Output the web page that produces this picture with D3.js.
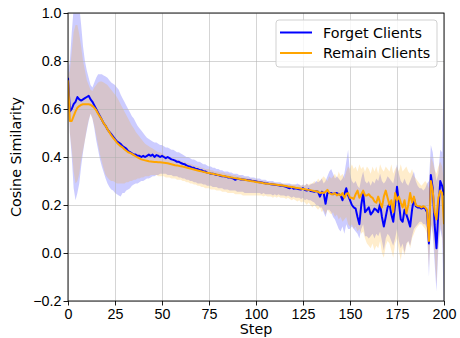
<!DOCTYPE html>
<html>
<head>
<meta charset="utf-8">
<script src="https://cdn.jsdelivr.net/npm/d3@7"></script>
<style>
  body { margin: 0; background: #fff; }
  svg { display: block; font-family: "DejaVu Sans", sans-serif; }
  .tick text { font-size: 14.3px; fill: #000; }
  .label { font-size: 14.3px; fill: #000; }
  .grid line { stroke: #b0b0b0; stroke-opacity: 0.6; stroke-width: 0.9; }
</style>
</head>
<body>
<svg id="chart" width="460" height="338"></svg>
<script>
// steps 0..200
const steps = d3.range(0, 201);

const forgetMean = [
  0.73, 0.59, 0.60, 0.62, 0.63, 0.65, 0.64, 0.635, 0.64, 0.645,
  0.65, 0.655, 0.64, 0.63, 0.615, 0.60, 0.585, 0.57, 0.555, 0.54,
  0.53, 0.515, 0.505, 0.495, 0.485, 0.475, 0.465, 0.46, 0.455, 0.445,
  0.44, 0.435, 0.425, 0.42, 0.415, 0.41, 0.41, 0.405, 0.405, 0.40,
  0.405, 0.40, 0.405, 0.41, 0.405, 0.41, 0.40, 0.408, 0.405, 0.40,
  0.405, 0.40, 0.395, 0.40, 0.395, 0.39, 0.388, 0.385, 0.38, 0.38,
  0.375, 0.372, 0.37, 0.365, 0.362, 0.36, 0.355, 0.355, 0.35, 0.35,
  0.345, 0.345, 0.34, 0.34, 0.335, 0.333, 0.33, 0.33, 0.328, 0.325,
  0.325, 0.322, 0.32, 0.32, 0.318, 0.315, 0.315, 0.312, 0.31, 0.305,
  0.31, 0.308, 0.306, 0.306, 0.305, 0.304, 0.303, 0.302, 0.30, 0.30,
  0.298, 0.296, 0.295, 0.294, 0.292, 0.29, 0.29, 0.288, 0.286, 0.285,
  0.284, 0.283, 0.282, 0.28, 0.28, 0.278, 0.276, 0.272, 0.27, 0.275,
  0.268, 0.27, 0.268, 0.266, 0.265, 0.27, 0.262, 0.26, 0.265, 0.258,
  0.257, 0.255, 0.258, 0.255, 0.235, 0.255, 0.25, 0.205, 0.25, 0.25,
  0.25, 0.245, 0.25, 0.25, 0.245, 0.24, 0.22, 0.245, 0.27, 0.24,
  0.22, 0.20, 0.19, 0.185, 0.15, 0.12, 0.20, 0.25, 0.17, 0.18,
  0.19, 0.16, 0.17, 0.185, 0.18, 0.17, 0.205, 0.15, 0.11, 0.15,
  0.19, 0.205, 0.16, 0.13, 0.20, 0.276, 0.21, 0.14, 0.13, 0.18,
  0.16, 0.137, 0.11, 0.18, 0.228, 0.195, 0.19, 0.19, 0.185, 0.19,
  0.185, 0.17, 0.04, 0.325, 0.27, 0.12, 0.02, 0.17, 0.30, 0.28, 0.24
];
const forgetLow = [
  0.70, 0.50, 0.40, 0.27, 0.22, 0.25, 0.29, 0.36, 0.42, 0.47,
  0.51, 0.55, 0.58, 0.56, 0.52, 0.47, 0.43, 0.39, 0.36, 0.335,
  0.31, 0.29, 0.275, 0.265, 0.26, 0.25, 0.245, 0.24, 0.235, 0.25,
  0.25, 0.26, 0.265, 0.27, 0.28, 0.285, 0.29, 0.29, 0.295, 0.30,
  0.30, 0.305, 0.31, 0.31, 0.315, 0.32, 0.32, 0.325, 0.325, 0.33,
  0.33, 0.33, 0.33, 0.325, 0.325, 0.325, 0.32, 0.32, 0.32, 0.315,
  0.315, 0.31, 0.31, 0.305, 0.305, 0.30, 0.30, 0.295, 0.295, 0.29,
  0.29, 0.29, 0.285, 0.285, 0.28, 0.28, 0.28, 0.275, 0.275, 0.275,
  0.27, 0.27, 0.27, 0.265, 0.265, 0.265, 0.26, 0.26, 0.26, 0.26,
  0.255, 0.255, 0.255, 0.255, 0.25, 0.25, 0.25, 0.25, 0.25, 0.25,
  0.25, 0.25, 0.25, 0.245, 0.25, 0.245, 0.245, 0.245, 0.245, 0.24,
  0.245, 0.24, 0.245, 0.24, 0.24, 0.24, 0.235, 0.24, 0.235, 0.23,
  0.235, 0.23, 0.23, 0.23, 0.225, 0.23, 0.22, 0.225, 0.22, 0.22,
  0.215, 0.21, 0.20, 0.20, 0.19, 0.19, 0.17, 0.15, 0.18, 0.18,
  0.17, 0.15, 0.14, 0.12, 0.10, 0.09, 0.11, 0.08, 0.12, 0.10,
  0.10, 0.11, 0.10, 0.09, 0.08, 0.06, 0.10, 0.12, 0.07, 0.07,
  0.06, 0.07, 0.08, 0.06, 0.08, 0.07, 0.09, 0.05, 0.01, 0.06,
  0.08, 0.07, 0.05, 0.03, 0.06, 0.10, 0.05, 0.02, 0.04, 0.00,
  0.04, 0.05, 0.03, 0.07, 0.10, 0.11, 0.12, 0.13, 0.13, 0.12,
  0.12, 0.10, -0.10, 0.12, 0.08, -0.04, -0.16, 0.02, 0.10, 0.06, -0.25
];
const forgetHigh = [
  0.76, 0.80, 0.92, 1.02, 1.06, 1.06, 1.03, 0.95, 0.86, 0.80,
  0.76, 0.73, 0.70, 0.69, 0.71, 0.73, 0.745, 0.745, 0.745, 0.74,
  0.735, 0.73, 0.72, 0.71, 0.705, 0.70, 0.69, 0.68, 0.66, 0.645,
  0.63, 0.615, 0.60, 0.585, 0.57, 0.56, 0.545, 0.53, 0.52, 0.51,
  0.50, 0.49, 0.48, 0.475, 0.47, 0.465, 0.46, 0.46, 0.455, 0.45,
  0.45, 0.445, 0.44, 0.44, 0.435, 0.43, 0.43, 0.425, 0.42, 0.42,
  0.415, 0.41, 0.405, 0.40, 0.40, 0.395, 0.39, 0.39, 0.385, 0.38,
  0.38, 0.375, 0.37, 0.37, 0.365, 0.36, 0.36, 0.355, 0.355, 0.35,
  0.35, 0.345, 0.345, 0.34, 0.34, 0.34, 0.335, 0.335, 0.33, 0.33,
  0.33, 0.325, 0.325, 0.325, 0.32, 0.32, 0.32, 0.315, 0.315, 0.315,
  0.31, 0.31, 0.31, 0.305, 0.305, 0.305, 0.30, 0.30, 0.30, 0.30,
  0.295, 0.295, 0.295, 0.295, 0.29, 0.29, 0.29, 0.29, 0.29, 0.285,
  0.285, 0.285, 0.29, 0.285, 0.28, 0.285, 0.28, 0.29, 0.28, 0.285,
  0.29, 0.29, 0.30, 0.295, 0.30, 0.31, 0.29, 0.30, 0.32, 0.34,
  0.35, 0.33, 0.31, 0.32, 0.31, 0.30, 0.31, 0.33, 0.38, 0.43,
  0.33, 0.30, 0.29, 0.30, 0.28, 0.27, 0.31, 0.34, 0.30, 0.29,
  0.30, 0.28, 0.30, 0.29, 0.31, 0.30, 0.33, 0.30, 0.29, 0.30,
  0.32, 0.31, 0.30, 0.29, 0.33, 0.37, 0.33, 0.30, 0.29, 0.31,
  0.29, 0.28, 0.30, 0.32, 0.34, 0.30, 0.28, 0.27, 0.27, 0.26,
  0.27, 0.29, 0.30, 0.45, 0.42, 0.35, 0.30, 0.33, 0.43, 0.42, 0.78
];

const remainMean = [
  0.72, 0.55, 0.55, 0.57, 0.59, 0.605, 0.612, 0.617, 0.62, 0.62,
  0.62, 0.62, 0.618, 0.612, 0.605, 0.595, 0.58, 0.568, 0.555, 0.54,
  0.53, 0.515, 0.503, 0.49, 0.48, 0.47, 0.46, 0.452, 0.445, 0.44,
  0.432, 0.426, 0.42, 0.417, 0.413, 0.408, 0.403, 0.398, 0.394, 0.39,
  0.388, 0.386, 0.384, 0.382, 0.381, 0.38, 0.379, 0.379, 0.378, 0.378,
  0.377, 0.376, 0.375, 0.374, 0.372, 0.37, 0.368, 0.366, 0.365, 0.363,
  0.361, 0.36, 0.358, 0.356, 0.354, 0.352, 0.35, 0.348, 0.346, 0.344,
  0.342, 0.34, 0.338, 0.336, 0.334, 0.333, 0.331, 0.33, 0.328, 0.327,
  0.325, 0.324, 0.322, 0.321, 0.319, 0.318, 0.316, 0.315, 0.313, 0.312,
  0.31, 0.309, 0.307, 0.306, 0.305, 0.303, 0.302, 0.30, 0.299, 0.298,
  0.296, 0.295, 0.294, 0.293, 0.291, 0.29, 0.289, 0.288, 0.287, 0.286,
  0.285, 0.284, 0.283, 0.282, 0.281, 0.28, 0.279, 0.277, 0.276, 0.275,
  0.274, 0.272, 0.271, 0.27, 0.268, 0.267, 0.266, 0.264, 0.263, 0.262,
  0.26, 0.258, 0.257, 0.255, 0.25, 0.252, 0.25, 0.255, 0.263, 0.25,
  0.245, 0.245, 0.25, 0.24, 0.245, 0.24, 0.25, 0.23, 0.245, 0.25,
  0.23, 0.23, 0.225, 0.245, 0.26, 0.23, 0.245, 0.26, 0.24, 0.24,
  0.245, 0.235, 0.23, 0.215, 0.21, 0.235, 0.21, 0.19, 0.235, 0.26,
  0.23, 0.20, 0.22, 0.17, 0.25, 0.22, 0.235, 0.21, 0.19, 0.22,
  0.165, 0.20, 0.25, 0.21, 0.235, 0.20, 0.195, 0.195, 0.19, 0.195,
  0.19, 0.18, 0.05, 0.30, 0.26, 0.17, 0.14, 0.23, 0.26, 0.25, 0.12
];
const remainLow = [
  0.69, 0.50, 0.43, 0.34, 0.29, 0.30, 0.33, 0.39, 0.43, 0.47,
  0.52, 0.555, 0.58, 0.56, 0.53, 0.49, 0.45, 0.41, 0.38, 0.35,
  0.325, 0.315, 0.305, 0.30, 0.30, 0.295, 0.29, 0.29, 0.29, 0.29,
  0.29, 0.295, 0.295, 0.30, 0.30, 0.305, 0.305, 0.31, 0.31, 0.315,
  0.315, 0.32, 0.32, 0.32, 0.325, 0.325, 0.325, 0.325, 0.32, 0.32,
  0.32, 0.32, 0.315, 0.315, 0.315, 0.31, 0.31, 0.31, 0.305, 0.305,
  0.305, 0.30, 0.30, 0.295, 0.295, 0.29, 0.29, 0.285, 0.285, 0.28,
  0.28, 0.275, 0.275, 0.27, 0.27, 0.27, 0.265, 0.265, 0.265, 0.26,
  0.26, 0.26, 0.255, 0.255, 0.255, 0.25, 0.25, 0.25, 0.25, 0.245,
  0.245, 0.245, 0.245, 0.24, 0.24, 0.24, 0.24, 0.24, 0.24, 0.24,
  0.24, 0.24, 0.24, 0.24, 0.235, 0.24, 0.235, 0.235, 0.235, 0.23,
  0.235, 0.23, 0.235, 0.23, 0.23, 0.23, 0.225, 0.23, 0.225, 0.22,
  0.225, 0.22, 0.215, 0.22, 0.21, 0.215, 0.21, 0.20, 0.21, 0.20,
  0.19, 0.20, 0.19, 0.18, 0.19, 0.17, 0.18, 0.16, 0.18, 0.17,
  0.16, 0.17, 0.15, 0.16, 0.14, 0.15, 0.13, 0.14, 0.15, 0.12,
  0.11, 0.12, 0.10, 0.11, 0.09, 0.10, 0.08, 0.09, 0.06, 0.04,
  0.03, 0.02, 0.04, 0.01, 0.03, 0.02, 0.05, 0.00, -0.02, 0.03,
  0.05, 0.04, 0.01, -0.02, 0.04, 0.06, 0.01, -0.03, 0.02, -0.01,
  0.03, 0.05, 0.02, 0.06, 0.08, 0.10, 0.11, 0.12, 0.12, 0.11,
  0.10, 0.08, -0.06, 0.12, 0.10, 0.00, -0.13, 0.05, 0.12, 0.08, -0.05
];
const remainHigh = [
  0.74, 0.76, 0.84, 0.92, 0.95, 0.95, 0.91, 0.86, 0.80, 0.76,
  0.72, 0.70, 0.68, 0.675, 0.69, 0.70, 0.71, 0.715, 0.715, 0.71,
  0.705, 0.70, 0.69, 0.68, 0.67, 0.66, 0.65, 0.635, 0.62, 0.605,
  0.59, 0.575, 0.56, 0.545, 0.53, 0.52, 0.505, 0.495, 0.485, 0.475,
  0.465, 0.455, 0.45, 0.445, 0.44, 0.435, 0.43, 0.425, 0.42, 0.42,
  0.415, 0.41, 0.405, 0.40, 0.40, 0.395, 0.395, 0.39, 0.39, 0.385,
  0.385, 0.38, 0.38, 0.375, 0.375, 0.37, 0.37, 0.365, 0.365, 0.36,
  0.36, 0.355, 0.355, 0.35, 0.35, 0.35, 0.345, 0.345, 0.34, 0.34,
  0.34, 0.335, 0.335, 0.335, 0.33, 0.33, 0.33, 0.325, 0.325, 0.325,
  0.32, 0.32, 0.32, 0.315, 0.315, 0.315, 0.31, 0.31, 0.31, 0.305,
  0.305, 0.305, 0.30, 0.30, 0.30, 0.30, 0.295, 0.295, 0.295, 0.295,
  0.29, 0.29, 0.29, 0.29, 0.29, 0.285, 0.285, 0.285, 0.285, 0.285,
  0.285, 0.285, 0.28, 0.285, 0.28, 0.285, 0.28, 0.29, 0.285, 0.29,
  0.29, 0.30, 0.29, 0.31, 0.30, 0.31, 0.32, 0.31, 0.30, 0.32,
  0.31, 0.32, 0.33, 0.31, 0.34, 0.32, 0.33, 0.31, 0.34, 0.36,
  0.35, 0.37, 0.35, 0.36, 0.34, 0.37, 0.35, 0.36, 0.34, 0.36,
  0.35, 0.33, 0.36, 0.34, 0.36, 0.33, 0.37, 0.35, 0.34, 0.36,
  0.35, 0.34, 0.37, 0.33, 0.35, 0.36, 0.34, 0.37, 0.34, 0.35,
  0.36, 0.34, 0.33, 0.35, 0.32, 0.31, 0.30, 0.29, 0.28, 0.29,
  0.30, 0.29, 0.27, 0.40, 0.38, 0.35, 0.33, 0.36, 0.38, 0.36, 0.30
];

const xTicks = [0, 25, 50, 75, 100, 125, 150, 175, 200];
const yTicks = [-0.2, 0.0, 0.2, 0.4, 0.6, 0.8, 1.0];
const seriesNames = ['Forget Clients', 'Remain Clients'];
const seriesColors = ['#0000ff', '#ffa500'];

const svg = d3.select('#chart');
const margin = { top: 13, right: 16, bottom: 37, left: 68 };
const width = 460 - margin.left - margin.right;
const height = 338 - margin.top - margin.bottom;

const chart = svg.append('g')
  .attr('transform', `translate(${margin.left}, ${margin.top})`);

const xScale = d3.scaleLinear().domain([0, 200]).range([0, width]);
const yScale = d3.scaleLinear().domain([-0.2, 1.0]).range([height, 0]);

chart.append('clipPath')
  .attr('id', 'plot-clip')
  .append('rect')
  .attr('width', width)
  .attr('height', height);

const series = [
  { name: seriesNames[0], color: seriesColors[0], mean: forgetMean, low: forgetLow, high: forgetHigh },
  { name: seriesNames[1], color: seriesColors[1], mean: remainMean, low: remainLow, high: remainHigh }
];

const plot = chart.append('g').attr('clip-path', 'url(#plot-clip)');

// bands first, grid on top of them, then lines (matplotlib z-order)
series.forEach((s) => {
  const area = d3.area()
    .x((d) => xScale(d))
    .y0((d) => yScale(s.low[d]))
    .y1((d) => yScale(s.high[d]));
  plot.append('path')
    .datum(steps)
    .attr('d', area)
    .attr('fill', s.color)
    .attr('fill-opacity', 0.2);
});

chart.append('g')
  .attr('class', 'grid')
  .attr('transform', `translate(0, ${height})`)
  .call(d3.axisBottom(xScale).tickValues(xTicks).tickSize(-height).tickFormat(''))
  .call((g) => g.select('.domain').remove());

chart.append('g')
  .attr('class', 'grid')
  .call(d3.axisLeft(yScale).tickValues(yTicks).tickSize(-width).tickFormat(''))
  .call((g) => g.select('.domain').remove());

const linesLayer = chart.append('g').attr('clip-path', 'url(#plot-clip)');
series.forEach((s) => {
  const line = d3.line()
    .x((d) => xScale(d))
    .y((d) => yScale(s.mean[d]));
  linesLayer.append('path')
    .datum(steps)
    .attr('d', line)
    .attr('fill', 'none')
    .attr('stroke', s.color)
    .attr('stroke-width', 2)
    .attr('stroke-linejoin', 'round');
});

// axes
const xAxis = chart.append('g')
  .attr('transform', `translate(0, ${height})`)
  .call(d3.axisBottom(xScale).tickValues(xTicks).tickSize(4.5).tickPadding(3).tickSizeOuter(0));

const yAxis = chart.append('g')
  .call(d3.axisLeft(yScale).tickValues(yTicks).tickSize(4.5).tickPadding(2)
    .tickFormat(d3.format('.1f')).tickSizeOuter(0));

[xAxis, yAxis].forEach((g) => {
  g.select('.domain').remove();
  g.selectAll('.tick line').attr('stroke', '#000').attr('stroke-width', 0.9);
});

chart.append('rect')
  .attr('width', width)
  .attr('height', height)
  .attr('fill', 'none')
  .attr('stroke', '#000')
  .attr('stroke-width', 0.9);

// labels
svg.append('text')
  .attr('class', 'label')
  .attr('x', margin.left + width / 2)
  .attr('y', 334)
  .attr('text-anchor', 'middle')
  .text('Step');

svg.append('text')
  .attr('class', 'label')
  .attr('transform', `translate(21, ${margin.top + height / 2}) rotate(-90)`)
  .attr('text-anchor', 'middle')
  .text('Cosine Similarity');

// legend
const legend = svg.append('g').attr('transform', 'translate(276, 20)');
legend.append('rect')
  .attr('width', 161)
  .attr('height', 47)
  .attr('rx', 3)
  .attr('fill', '#fff')
  .attr('fill-opacity', 0.8)
  .attr('stroke', '#cccccc')
  .attr('stroke-width', 0.9);

series.forEach((s, i) => {
  const row = legend.append('g').attr('transform', `translate(0, ${12.5 + i * 20.5})`);
  row.append('line')
    .attr('x1', 4).attr('x2', 36)
    .attr('stroke', s.color)
    .attr('stroke-width', 2);
  row.append('text')
    .attr('class', 'label')
    .attr('x', 47)
    .attr('dy', '0.35em')
    .text(s.name);
});
</script>
</body>
</html>
